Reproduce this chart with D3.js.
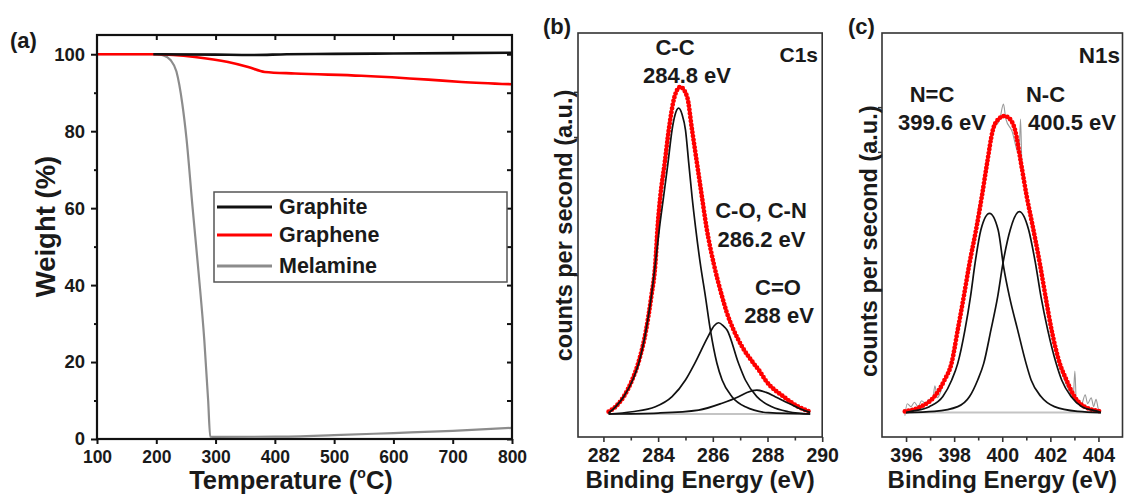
<!DOCTYPE html>
<html>
<head>
<meta charset="utf-8">
<title>TGA and XPS</title>
<script src="https://cdn.jsdelivr.net/npm/d3@7"></script>
<style>
  body { margin: 0; background: #fff; }
  svg text { font-family: Arial, "Liberation Sans", sans-serif; font-weight: bold; fill: #1a1a1a; }
</style>
</head>
<body>
<div id="chart"></div>
<script>
// ---- panel (a) TGA: [temperature (°C), weight (%)]
var graphite = [[195,100],[300,99.9],[360,99.8],[420,100],[500,100.1],[600,100.2],[700,100.3],[800,100.4]];
var graphene = [[100,100],[200,100],[265,99.3],[321,98],[355,96.7],[383,95.4],[434,95.0],[546,94.4],[659,93.4],[715,92.8],[800,92.2]];
var melamine = [[100,100],[200,100],[212,99.7],[224,98.5],[234,95.5],[244,87],[251,78],[261,60.5],[271.5,43],[281,25.7],[287.5,10],[291,0.6],[300,0.55],[400,0.6],[500,1.0],[600,1.55],[700,2.1],[800,2.9]];
var legendNames = ["Graphite", "Graphene", "Melamine"];
var legendColors = ["#111111", "#ff0000", "#8c8c8c"];
var xTicksA = [100,200,300,400,500,600,700,800];
var yTicksA = [0,20,40,60,80,100];
var yMinorA = [10,30,50,70,90];

// ---- panel (b) C1s: [binding energy (eV), counts (normalised)]
var c1sData = [[282.19,0.007],[282.44,0.022],[282.74,0.053],[283.05,0.104],[283.27,0.155],[283.56,0.257],[283.75,0.359],[283.90,0.461],[283.98,0.57],[284.08,0.665],[284.24,0.767],[284.39,0.869],[284.60,0.970],[284.81,1.0],[285.06,0.970],[285.24,0.869],[285.42,0.767],[285.60,0.665],[285.77,0.57],[286.03,0.461],[286.34,0.359],[286.52,0.308],[286.76,0.257],[287.07,0.206],[287.49,0.155],[287.72,0.13],[287.92,0.104],[288.59,0.053],[289.13,0.022],[289.56,0.007]];
var c1sCC = [[282.19,0.003],[282.44,0.022],[282.74,0.053],[283.07,0.104],[283.29,0.155],[283.56,0.257],[283.75,0.359],[283.90,0.461],[284.05,0.57],[284.20,0.665],[284.36,0.767],[284.51,0.869],[284.62,0.915],[284.75,0.935],[284.88,0.915],[285.00,0.869],[285.12,0.767],[285.24,0.665],[285.37,0.57],[285.54,0.461],[285.73,0.359],[285.91,0.257],[286.15,0.155],[286.34,0.104],[286.70,0.053],[287.19,0.022],[288.04,0.004],[289.56,0.0]];
var c1sCO = [[282.19,0.0],[283.05,0.007],[283.90,0.022],[284.51,0.053],[285.00,0.104],[285.34,0.155],[285.82,0.236],[286.05,0.27],[286.21,0.279],[286.38,0.27],[286.52,0.257],[286.94,0.155],[287.19,0.104],[287.61,0.053],[288.16,0.022],[288.77,0.007],[289.56,0.0]];
var c1sCeqO = [[282.19,0.0],[284.0,0.003],[285.48,0.012],[286.34,0.033],[286.94,0.053],[287.25,0.066],[287.61,0.073],[287.95,0.066],[288.28,0.053],[288.77,0.033],[289.31,0.012],[289.56,0.005]];
var c1sBase = [[282.19,0],[289.56,0]];
var xTicksB = [282,284,286,288,290];
var xMinorB = [283,285,287,289];
var yTicksB = [0.985,0.847,0.425];

// ---- panel (c) N1s
var n1sRaw = [[395.95,-0.01],[396.05,0.03],[396.2,0.02],[396.35,0.035],[396.5,0.02],[396.65,0.04],[396.8,0.03],[396.95,0.045],[397.1,0.04],[397.2,0.09],[397.3,0.05],[397.6,0.11],[397.9,0.17],[398.2,0.29],[398.5,0.42],[398.8,0.57],[399.0,0.68],[399.3,0.8],[399.6,0.95],[399.9,0.99],[400.05,1.04],[400.15,0.99],[400.4,0.95],[400.7,0.87],[400.76,0.99],[400.82,0.83],[401.0,0.73],[401.3,0.6],[401.6,0.49],[401.9,0.35],[402.2,0.22],[402.5,0.13],[402.8,0.07],[402.95,0.05],[403.02,0.14],[403.08,0.04],[403.3,0.03],[403.45,0.06],[403.55,0.03],[403.7,0.05],[403.8,0.02],[403.9,0.045],[404.0,0.01],[404.1,0.0]];
var n1sData = [[395.95,0.004],[396.62,0.020],[397.18,0.054],[397.60,0.110],[397.89,0.166],[398.15,0.279],[398.40,0.391],[398.64,0.504],[398.91,0.616],[399.15,0.728],[399.37,0.841],[399.61,0.953],[399.85,0.99],[400.09,1.0],[400.32,0.99],[400.53,0.953],[400.78,0.841],[401.02,0.728],[401.27,0.627],[401.56,0.504],[401.80,0.391],[402.05,0.279],[402.39,0.166],[402.67,0.110],[403.00,0.054],[403.42,0.020],[404.11,0.004]];
var n1sNdC = [[396.0,0.0],[396.21,0.004],[396.97,0.020],[397.53,0.054],[397.90,0.110],[398.15,0.166],[398.45,0.279],[398.68,0.391],[398.87,0.504],[399.11,0.616],[399.47,0.672],[399.83,0.616],[400.06,0.49],[400.30,0.391],[400.64,0.279],[400.99,0.166],[401.20,0.110],[401.61,0.054],[402.17,0.020],[403.14,0.004],[404.1,0.0]];
var n1sNC = [[396.0,0.0],[397.18,0.004],[398.15,0.020],[398.64,0.054],[398.98,0.110],[399.23,0.166],[399.53,0.279],[399.81,0.391],[400.03,0.504],[400.33,0.616],[400.71,0.678],[401.10,0.616],[401.38,0.504],[401.61,0.391],[401.89,0.279],[402.24,0.166],[402.47,0.110],[402.86,0.054],[403.31,0.020],[403.97,0.004],[404.1,0.0]];
var n1sBase = [[396.0,0],[404.1,0]];
var xTicksC = [396,398,400,402,404];
var xMinorC = [397,399,401,403];
var yTicksC = [1.03,0.879,0.414];

var width = 1125, height = 496;
var svg = d3.select("#chart").append("svg")
  .attr("width", width)
  .attr("height", height);

function txt(x, y, s, size, anchor) {
  return svg.append("text").attr("x", x).attr("y", y)
    .attr("font-size", size).attr("text-anchor", anchor || "middle").text(s);
}

function styleAxis(g, col, w) {
  g.select(".domain").remove();
  g.selectAll(".tick line").attr("stroke", col).attr("stroke-width", w);
}

// ================= panel (a)
var xA = d3.scaleLinear().domain([100, 800]).range([97, 512]);
var yA = d3.scaleLinear().domain([0, 105]).range([439, 35]);
var lineA = d3.line().x(function(d){ return xA(d[0]); }).y(function(d){ return yA(d[1]); }).curve(d3.curveMonotoneX);

var gxA = svg.append("g").attr("transform", "translate(0,439)")
  .call(d3.axisBottom(xA).tickValues(xTicksA).tickSize(5).tickFormat(d3.format("d")));
styleAxis(gxA, "#111", 2);
gxA.selectAll("text").attr("y", 24).attr("dy", 0).attr("font-size", 17.5);

var gxA2 = svg.append("g").attr("transform", "translate(0,35)")
  .call(d3.axisTop(xA).tickValues(xTicksA.slice(1, -1)).tickSize(-5).tickFormat(""));
styleAxis(gxA2, "#111", 2);

var gyA = svg.append("g").attr("transform", "translate(97,0)")
  .call(d3.axisLeft(yA).tickValues(yTicksA).tickSize(6).tickFormat(d3.format("d")));
styleAxis(gyA, "#111", 2);
gyA.selectAll("text").attr("x", -12).attr("font-size", 18.5);

var gyA2 = svg.append("g").attr("transform", "translate(97,0)")
  .call(d3.axisLeft(yA).tickValues(yMinorA).tickSize(3).tickFormat(""));
styleAxis(gyA2, "#111", 2);

var gyA3 = svg.append("g").attr("transform", "translate(512,0)")
  .call(d3.axisRight(yA).tickValues(yTicksA.concat(yMinorA)).tickSize(-5).tickFormat(""));
styleAxis(gyA3, "#111", 2);

var seriesA = [melamine, graphene, graphite];
var colorsA = [legendColors[2], legendColors[1], legendColors[0]];
seriesA.forEach(function(s, i) {
  svg.append("path").attr("d", lineA(s)).attr("fill", "none")
    .attr("stroke", colorsA[i]).attr("stroke-width", i == 0 ? 2.2 : 2.6);
});

svg.append("rect").attr("x", 97).attr("y", 35).attr("width", 415).attr("height", 404)
  .attr("fill", "none").attr("stroke", "#111").attr("stroke-width", 2.2);

// legend
svg.append("rect").attr("x", 214).attr("y", 192).attr("width", 293).attr("height", 90)
  .attr("fill", "#fff").attr("stroke", "#555").attr("stroke-width", 1.5);
var legY = [207, 235, 266];
legendNames.forEach(function(n, i) {
  svg.append("line").attr("x1", 217).attr("x2", 272).attr("y1", legY[i]).attr("y2", legY[i])
    .attr("stroke", legendColors[i]).attr("stroke-width", 3);
  txt(279, legY[i] + 7, n, 21.5, "start");
});

var tT = txt(291, 489, "Temperature (", 25.5);
tT.append("tspan").attr("font-size", 14).attr("dy", -11).text("o");
tT.append("tspan").attr("dy", 11).text("C)");
txt(0, 0, "Weight (%)", 27.5).attr("transform", "translate(55,226.5) rotate(-90)");
txt(10, 48, "(a)", 22, "start");

// ================= XPS panels
function xpsPanel(o) {
  var x = d3.scaleLinear().domain(o.xDom).range([o.x0, o.x1]);
  var y = d3.scaleLinear().domain(o.yDom).range([437, 33]);
  var line = d3.line().x(function(d){ return x(d[0]); }).y(function(d){ return y(d[1]); }).curve(d3.curveMonotoneX);

  var gx = svg.append("g").attr("transform", "translate(0,437)")
    .call(d3.axisBottom(x).tickValues(o.xTicks).tickSize(5).tickFormat(d3.format("d")));
  styleAxis(gx, "#333", 1.6);
  gx.selectAll("text").attr("y", 25).attr("dy", 0).attr("font-size", o.tickSize);
  var gxm = svg.append("g").attr("transform", "translate(0,437)")
    .call(d3.axisBottom(x).tickValues(o.xMinor).tickSize(3.5).tickFormat(""));
  styleAxis(gxm, "#333", 1.6);
  var gy = svg.append("g").attr("transform", "translate(" + o.x0 + ",0)")
    .call(d3.axisLeft(y).tickValues(o.yTicks).tickSize(4).tickFormat(""));
  styleAxis(gy, "#333", 1.5);

  svg.append("path").attr("d", line(o.base)).attr("fill", "none")
    .attr("stroke", "#c4c4c4").attr("stroke-width", 2);
  if (o.raw) {
    svg.append("path").attr("d", line(o.raw)).attr("fill", "none")
      .attr("stroke", "#9a9a9a").attr("stroke-width", 1.1);
  }
  // measured points: thin line plus a chain of round dots
  svg.append("path").attr("d", line(o.data)).attr("fill", "none")
    .attr("stroke", "#ff2020").attr("stroke-width", 2.2);
  svg.append("path").attr("d", line(o.data)).attr("fill", "none")
    .attr("stroke", "#ff0000").attr("stroke-width", 4.8)
    .attr("stroke-linecap", "round").attr("stroke-dasharray", "0 3.8");
  o.fits.forEach(function(f) {
    svg.append("path").attr("d", line(f)).attr("fill", "none")
      .attr("stroke", "#111").attr("stroke-width", 1.7);
  });

  svg.append("rect").attr("x", o.x0).attr("y", 33).attr("width", o.x1 - o.x0).attr("height", 404)
    .attr("fill", "none").attr("stroke", "#333").attr("stroke-width", 1.6);

  txt((o.x0 + o.x1) / 2, 488, "Binding Energy (eV)", 24);
  txt(0, 0, "counts per second (a.u.)", 23.5)
    .attr("transform", "translate(" + o.yLabX + "," + o.yLabY + ") rotate(-90)");
}

xpsPanel({ xDom: [281.07, 290], x0: 578, x1: 822.2, yDom: [-0.0703, 1.165],
  xTicks: xTicksB, xMinor: xMinorB, yTicks: yTicksB, tickSize: 19.5,
  base: c1sBase, data: c1sData, fits: [c1sCC, c1sCO, c1sCeqO],
  yLabX: 572, yLabY: 225.5 });

xpsPanel({ xDom: [395, 405], x0: 882, x1: 1122.5, yDom: [-0.0823, 1.28],
  xTicks: xTicksC, xMinor: xMinorC, yTicks: yTicksC, tickSize: 19.5,
  base: n1sBase, raw: n1sRaw, data: n1sData, fits: [n1sNdC, n1sNC],
  yLabX: 877, yLabY: 241.3 });

// annotations
txt(543, 34, "(b)", 22, "start");
txt(675, 55, "C-C", 22);
txt(687, 83.3, "284.8 eV", 22);
txt(818, 61.7, "C1s", 21, "end");
txt(761, 218, "C-O, C-N", 22);
txt(761.5, 246.7, "286.2 eV", 22);
txt(778, 295, "C=O", 22);
txt(779, 323.3, "288 eV", 22);

txt(848, 34, "(c)", 22, "start");
txt(1120, 63.3, "N1s", 22.5, "end");
txt(932, 101.7, "N=C", 22);
txt(942, 130, "399.6 eV", 22);
txt(1045.5, 101.7, "N-C", 22);
txt(1072, 130, "400.5 eV", 22);
</script>
</body>
</html>
